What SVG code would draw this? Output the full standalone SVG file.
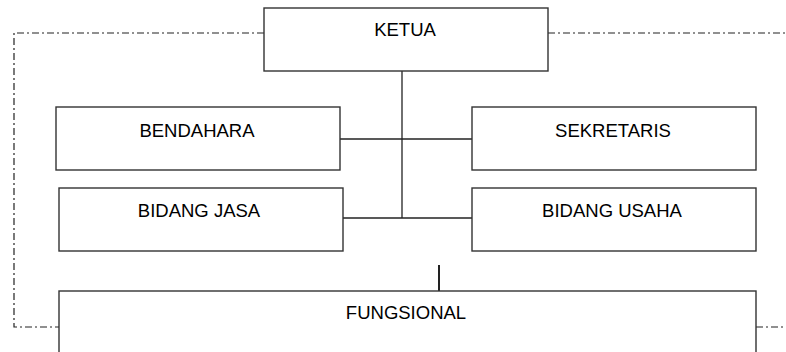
<svg xmlns="http://www.w3.org/2000/svg" width="786" height="352" viewBox="0 0 786 352">
<style>
.box{fill:#fff;stroke:#333;stroke-width:1.4}
.lbl{font-family:"Liberation Sans",Arial,sans-serif;font-size:18.5px;fill:#000;text-anchor:middle}
.ln{fill:none;stroke:#222;stroke-width:1.3}
.dd{fill:none;stroke:#222;stroke-width:1.2;stroke-dasharray:7 3 2 3}
</style>
<rect width="786" height="352" fill="#fff"/>
<g id="connectors">
<path class="dd" d="M264,33 H14 V327 H59"/>
<path class="dd" d="M548,33 H786"/>
<path class="dd" d="M756,327 H786"/>
<path class="ln" d="M402,71 V218"/>
<path class="ln" d="M340,139 H472"/>
<path class="ln" d="M343,218 H477"/>
<path class="ln" d="M439,265 V292" style="stroke-width:2"/>
</g>
<g id="ketua"><rect class="box" x="264" y="8" width="284" height="63"/><text class="lbl" x="405" y="36">KETUA</text></g>
<g id="bendahara"><rect class="box" x="56" y="107" width="284" height="63"/><text class="lbl" x="197" y="137">BENDAHARA</text></g>
<g id="sekretaris"><rect class="box" x="472" y="107" width="284" height="63"/><text class="lbl" x="613" y="137">SEKRETARIS</text></g>
<g id="bidang-jasa"><rect class="box" x="59" y="188" width="284" height="63"/><text class="lbl" x="199" y="217">BIDANG JASA</text></g>
<g id="bidang-usaha"><rect class="box" x="472" y="188" width="284" height="63"/><text class="lbl" x="612" y="217">BIDANG USAHA</text></g>
<g id="fungsional"><rect class="box" x="59" y="291" width="697" height="80"/><text class="lbl" x="406" y="319">FUNGSIONAL</text></g>
</svg>
